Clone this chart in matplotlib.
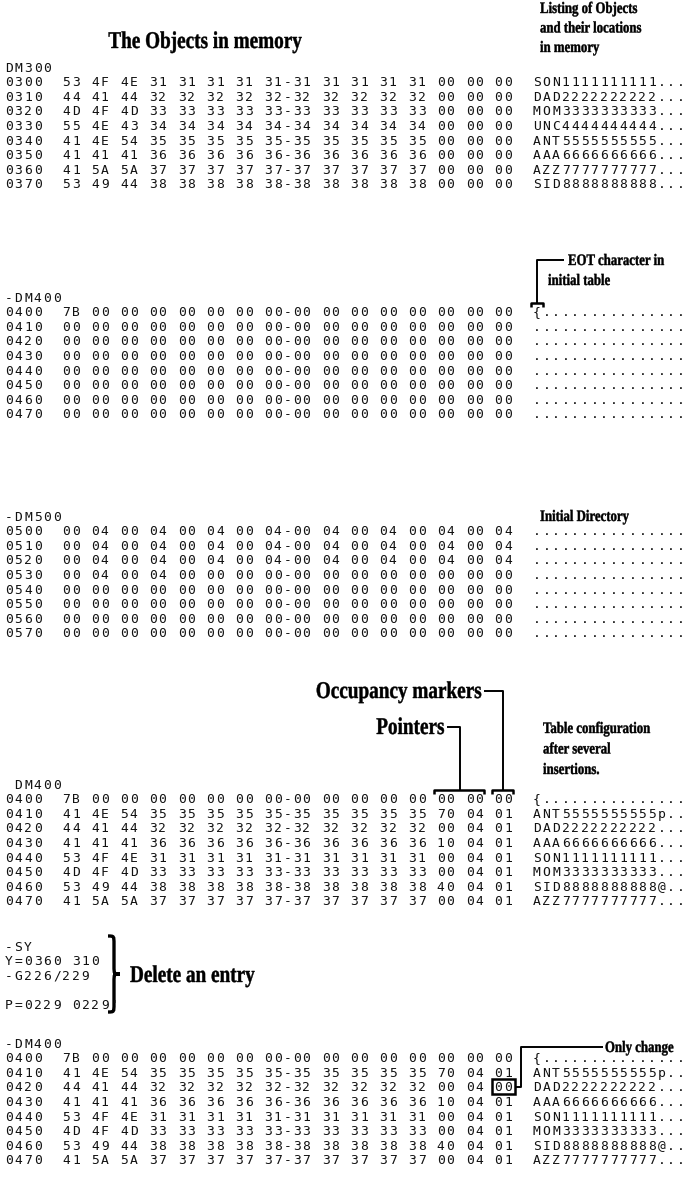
import matplotlib
matplotlib.use("Agg")
import matplotlib.pyplot as plt
from matplotlib.textpath import TextPath
from matplotlib.patches import PathPatch, Rectangle
from matplotlib.font_manager import FontProperties
from matplotlib.path import Path
import matplotlib.transforms as mtransforms

# ---- memory dump data ----
objects_addr = ['0300', '0310', '0320', '0330', '0340', '0350', '0360', '0370']
objects_bytes = [
    '53 4F 4E 31 31 31 31 31 31 31 31 31 31 00 00 00',
    '44 41 44 32 32 32 32 32 32 32 32 32 32 00 00 00',
    '4D 4F 4D 33 33 33 33 33 33 33 33 33 33 00 00 00',
    '55 4E 43 34 34 34 34 34 34 34 34 34 34 00 00 00',
    '41 4E 54 35 35 35 35 35 35 35 35 35 35 00 00 00',
    '41 41 41 36 36 36 36 36 36 36 36 36 36 00 00 00',
    '41 5A 5A 37 37 37 37 37 37 37 37 37 37 00 00 00',
    '53 49 44 38 38 38 38 38 38 38 38 38 38 00 00 00',
]
objects_text = ['SON1111111111...', 'DAD2222222222...', 'MOM3333333333...',
                'UNC4444444444...', 'ANT5555555555...', 'AAA6666666666...',
                'AZZ7777777777...', 'SID8888888888...']

table_addr = ['0400', '0410', '0420', '0430', '0440', '0450', '0460', '0470']
init_table_bytes = ['7B' + ' 00' * 15] + ['00' + ' 00' * 15] * 7
init_table_text = ['{' + '.' * 15] + ['.' * 16] * 7

dir_addr = ['0500', '0510', '0520', '0530', '0540', '0550', '0560', '0570']
dir_bytes = ['00 04 00 04 00 04 00 04 00 04 00 04 00 04 00 04'] * 3 + \
            ['00 04 00 04 00 00 00 00 00 00 00 00 00 00 00 00'] + \
            ['00 00 00 00 00 00 00 00 00 00 00 00 00 00 00 00'] * 4
dir_text = ['.' * 16] * 8

after_ins_bytes = [
    '7B 00 00 00 00 00 00 00 00 00 00 00 00 00 00 00',
    '41 4E 54 35 35 35 35 35 35 35 35 35 35 70 04 01',
    '44 41 44 32 32 32 32 32 32 32 32 32 32 00 04 01',
    '41 41 41 36 36 36 36 36 36 36 36 36 36 10 04 01',
    '53 4F 4E 31 31 31 31 31 31 31 31 31 31 00 04 01',
    '4D 4F 4D 33 33 33 33 33 33 33 33 33 33 00 04 01',
    '53 49 44 38 38 38 38 38 38 38 38 38 38 40 04 01',
    '41 5A 5A 37 37 37 37 37 37 37 37 37 37 00 04 01',
]
after_ins_text = ['{...............', 'ANT5555555555p..', 'DAD2222222222...',
                  'AAA6666666666...', 'SON1111111111...', 'MOM3333333333...',
                  'SID8888888888@..', 'AZZ7777777777...']

after_del_bytes = list(after_ins_bytes)
after_del_bytes[2] = '44 41 44 32 32 32 32 32 32 32 32 32 32 00 04 00'
after_del_text = list(after_ins_text)

sy_lines = ['-SY', 'Y=0360 310', '-G226/229', '', "P=0229 0229'"]

# ---- layout ----
W, H = 687, 1177
X0 = 4          # left edge of the dump
PITCH = 9.6     # printer character pitch (px)
ROW = 14.6      # line pitch (px)

fig = plt.figure(figsize=(W / 100, H / 100), dpi=100)
ax = fig.add_axes([0, 0, 1, 1])
ax.set_xlim(0, W)
ax.set_ylim(H, 0)
ax.axis('off')

bold_fp = FontProperties(family='Liberation Serif', weight='bold')


def put_line(y, s):
    # one printer line, each character on the fixed pitch
    for i, ch in enumerate(s):
        if ch != ' ':
            ax.text(X0 + i * PITCH + PITCH / 2, y + 4.6, ch, family='DejaVu Sans Mono',
                    fontsize=9.4, ha='center', va='baseline', color='#111111')


def dump(header, y_head, addrs, rows, texts):
    put_line(y_head, header)
    for k, (a, b, t) in enumerate(zip(addrs, rows, texts)):
        bb = b.split()
        s = a + '  ' + ' '.join(bb[:8]) + '-' + ' '.join(bb[8:]) + '  ' + t
        put_line(y_head + (k + 1) * ROW, s)


def col_x(c):
    return X0 + c * PITCH


def label(x, y, s, size, squeeze=0.8, ha='left'):
    tp = TextPath((0, 0), s, size=size, prop=bold_fp)
    w = tp.get_extents().x1 * squeeze
    if ha == 'right':
        x = x - w
    elif ha == 'center':
        x = x - w / 2
    tr = mtransforms.Affine2D().scale(squeeze, -1).translate(x, y)
    ax.add_patch(PathPatch(tr.transform_path(tp), fc='black', ec='black', lw=0.3))
    return x + w


def seg(xs, ys, lw=1.4):
    ax.plot(xs, ys, color='black', lw=lw, solid_capstyle='butt')


def bracket(xa, xb, y):
    seg([xa, xa, xb, xb], [y + 4, y, y, y + 4], lw=1.8)


# section 1: objects in memory
label(205, 48, 'The Objects in memory', 24, ha='center')
for i, s in enumerate(['Listing of Objects', 'and their locations', 'in memory']):
    label(540, 13 + i * 19.5, s, 16)
y1 = 67
dump('DM300', y1, objects_addr, objects_bytes, objects_text)

# section 2: initial table
y2 = 297
dump('-DM400', y2, table_addr, init_table_bytes, init_table_text)
label(568, 265, 'EOT character in', 16)
label(548, 285, 'initial table', 16)
xe = col_x(55) + PITCH / 2
seg([564, xe, xe], [260, 260, y2 + ROW - 9])
bracket(col_x(55) - 1, col_x(56) + 1, y2 + ROW - 9)

# section 3: initial directory
y3 = 516
dump('-DM500', y3, dir_addr, dir_bytes, dir_text)
label(540, 521, 'Initial Directory', 16)

# section 4: after several insertions
y4 = 784
dump(' DM400', y4, table_addr, after_ins_bytes, after_ins_text)
yb = y4 + ROW - 9
xo = (col_x(51) + col_x(53)) / 2
xp = (col_x(45) + col_x(50)) / 2
e = label(xo - 22, 698, 'Occupancy markers', 24, ha='right')
seg([e + 3, xo, xo], [691, 691, yb])
e = label(xp - 16, 734, 'Pointers', 24, ha='right')
seg([e + 3, xp, xp], [727, 727, yb])
bracket(col_x(51) - 2, col_x(53), yb)
bracket(col_x(45) - 2, col_x(50), yb)
for i, s in enumerate(['Table configuration', 'after several', 'insertions.']):
    label(543, 733 + i * 20.5, s, 16)

# section 5: delete an entry
y5 = 946
for i, s in enumerate(sy_lines):
    put_line(y5 + i * ROW, s)
bx, bw, bt, bbm = 108, 12, 936, 1012
bm = (bt + bbm) / 2
q = 8
brace = Path([(bx, bt), (bx + bw / 2, bt), (bx + bw / 2, bt), (bx + bw / 2, bt + q),
              (bx + bw / 2, bm - q),
              (bx + bw / 2, bm), (bx + bw / 2, bm), (bx + bw, bm),
              (bx + bw / 2, bm), (bx + bw / 2, bm), (bx + bw / 2, bm + q),
              (bx + bw / 2, bbm - q),
              (bx + bw / 2, bbm), (bx + bw / 2, bbm), (bx, bbm)],
             [Path.MOVETO, Path.CURVE4, Path.CURVE4, Path.CURVE4, Path.LINETO,
              Path.CURVE4, Path.CURVE4, Path.CURVE4, Path.CURVE4, Path.CURVE4, Path.CURVE4,
              Path.LINETO, Path.CURVE4, Path.CURVE4, Path.CURVE4])
ax.add_patch(PathPatch(brace, fc='none', ec='black', lw=2.4))
label(130, 982, 'Delete an entry', 24)

# section 6: after deletion
y6 = 1043
dump('-DM400', y6, table_addr, after_del_bytes, after_del_text)
yr = y6 + 3 * ROW
ax.add_patch(Rectangle((col_x(51) - 2, yr - 7.5), 2 * PITCH + 4, 15, fill=False,
                       ec='black', lw=1.8))
xl = col_x(53) + 8
yo = y6 + 4
seg([col_x(53) + 2, xl, xl, 603], [yr, yr, yo, yo])
label(605, yo + 5, 'Only change', 16)

fig.savefig('out.png', dpi=100)
